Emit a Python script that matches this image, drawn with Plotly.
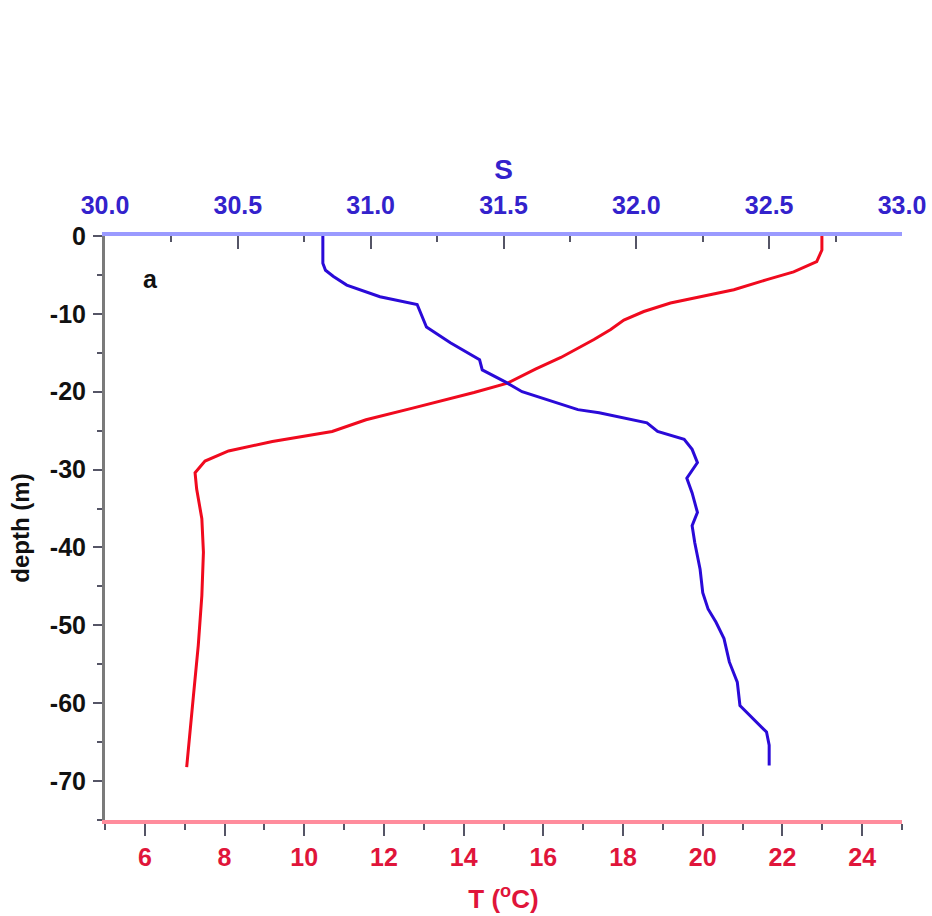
import plotly.graph_objects as go

# Salinity profile (top axis)
s_depth = [0, -3.5, -4.4, -5.2, -6.3, -7.8, -8.8, -10.0, -11.7, -13.7, -15.9, -17.2, -18.8,
           -20.0, -21.3, -22.3, -22.7, -24.0, -25.1, -26.1, -27.4, -29.1, -31.1, -33.0, -35.5,
           -37.2, -39.4, -42.8, -45.8, -47.9, -49.6, -51.7, -54.7, -57.3, -60.3, -62.0, -63.7,
           -65.4, -68.0]
s_vals = [30.82, 30.82, 30.83, 30.86, 30.91, 31.035, 31.175, 31.19, 31.21, 31.30, 31.41, 31.42,
          31.51, 31.57, 31.69, 31.78, 31.86, 32.04, 32.08, 32.18, 32.21, 32.23, 32.19, 32.21,
          32.23, 32.21, 32.22, 32.24, 32.25, 32.27, 32.30, 32.33, 32.35, 32.38, 32.39, 32.44,
          32.49, 32.50, 32.50]

# Temperature profile (bottom axis)
t_depth = [0, -1.8, -3.3, -4.6, -5.6, -6.9, -7.8, -8.6, -9.7, -10.8, -12.0, -13.3, -15.6, -17.1,
           -18.9, -20.1, -22.1, -23.6, -25.1, -26.4, -27.6, -28.9, -30.4, -32.5, -36.3, -40.6,
           -46.2, -52.6, -59.0, -65.4, -68.2]
t_vals = [22.99, 22.99, 22.86, 22.28, 21.61, 20.78, 19.94, 19.19, 18.52, 18.02, 17.69, 17.27,
          16.44, 15.8, 15.10, 14.26, 12.72, 11.55, 10.7, 9.2, 8.1, 7.51, 7.26, 7.30, 7.43, 7.47,
          7.43, 7.34, 7.22, 7.09, 7.05]

depth_ticks = [0, -10, -20, -30, -40, -50, -60, -70]
depth_ticktext = ["0", "-10", "-20", "-30", "-40", "-50", "-60", "-70"]
depth_minor = [-5, -15, -25, -35, -45, -55, -65, -75]

FONT = "Liberation Sans, Arial, sans-serif"
BLUE_TXT = "#3322cc"
RED_TXT = "#e0153a"
TICK_C = "#555566"

fig = go.Figure()
fig.add_trace(go.Scatter(x=t_vals, y=t_depth, mode="lines", xaxis="x", yaxis="y",
                         line=dict(color="#f00a1e", width=3), showlegend=False))
fig.add_trace(go.Scatter(x=s_vals, y=s_depth, mode="lines", xaxis="x2", yaxis="y",
                         line=dict(color="#2a0ad8", width=3), showlegend=False))

fig.update_layout(
    width=932, height=916,
    margin=dict(l=105, r=30, t=236, b=96),
    paper_bgcolor="white", plot_bgcolor="white",
    font=dict(family=FONT),
    xaxis=dict(
        automargin=False,
        range=[5, 25], tick0=0, dtick=2, showgrid=False, zeroline=False,
        showline=True, linecolor="#ff8c9c", linewidth=4,
        ticks="outside", ticklen=12, tickwidth=2, tickcolor=TICK_C,
        minor=dict(dtick=1, tick0=0, ticks="outside", ticklen=6, tickwidth=2, tickcolor=TICK_C),
        tickfont=dict(color=RED_TXT, size=25, weight="bold"),
        ticklabelstandoff=0,
        title=dict(text="T (<sup>o</sup>C)", font=dict(color=RED_TXT, size=26, weight="bold"), standoff=21),
    ),
    xaxis2=dict(
        automargin=False,
        range=[30, 33], tick0=30, dtick=0.5, tickformat=".1f", overlaying="x", side="top",
        showgrid=False, zeroline=False,
        showline=True, linecolor="#9a9aff", linewidth=4,
        ticks="inside", ticklen=13, tickwidth=2, tickcolor=TICK_C,
        minor=dict(dtick=0.25, tick0=30, ticks="inside", ticklen=6, tickwidth=2, tickcolor=TICK_C),
        tickfont=dict(color=BLUE_TXT, size=25, weight="bold"),
        ticklabelstandoff=8,
        title=dict(text="S", font=dict(color=BLUE_TXT, size=28, weight="bold"), standoff=4),
    ),
    yaxis=dict(
        automargin=False,
        range=[-75, 0], tickmode="array", tickvals=depth_ticks, ticktext=depth_ticktext,
        showgrid=False, zeroline=False,
        showline=True, linecolor="#7a7a7a", linewidth=3,
        ticks="outside", ticklen=9, tickwidth=2, tickcolor=TICK_C,
        minor=dict(tickmode="array", tickvals=depth_minor, ticks="outside", ticklen=5,
                   tickwidth=2, tickcolor=TICK_C),
        tickfont=dict(color="#111111", size=25, weight="bold"),
        ticklabelstandoff=2,
        title=dict(text="depth (m)", font=dict(color="#111111", size=24, weight="bold"), standoff=14),
    ),
    annotations=[dict(text="a", x=0.057, y=-5.5, xref="paper", yref="y", showarrow=False,
                      xanchor="center", font=dict(size=25, color="#111111", family=FONT, weight="bold"))],
)

fig.write_html("out.html")
